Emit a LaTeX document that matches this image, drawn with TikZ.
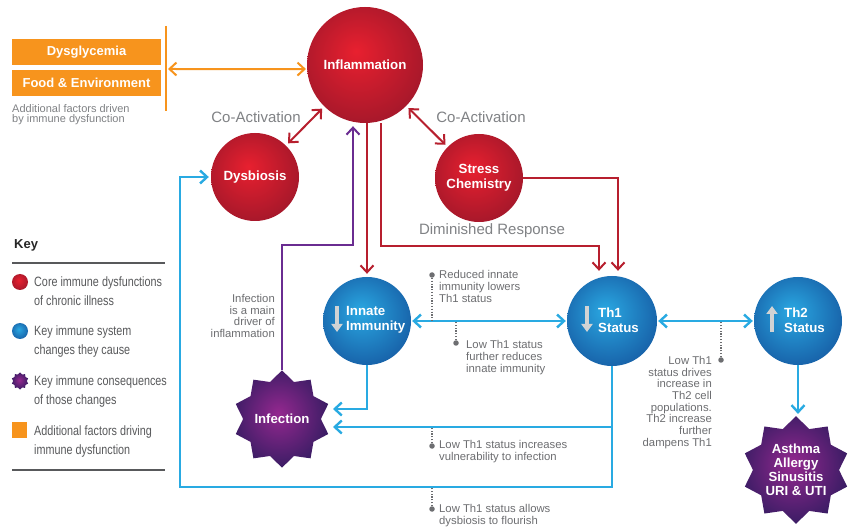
\documentclass[tikz,border=0pt]{standalone}
\usepackage{fontspec}
\setmainfont{Liberation Sans}
\newfontfamily\narrowfont[FakeStretch=0.8]{Liberation Sans}
\usetikzlibrary{arrows.meta,shapes.geometric}

% palette
\definecolor{redin}{HTML}{E8202F}
\definecolor{redout}{HTML}{A0172A}
\definecolor{bluein}{HTML}{2AA8E2}
\definecolor{blueout}{HTML}{165CA4}
\definecolor{purin}{HTML}{94288F}
\definecolor{purout}{HTML}{2F1B5F}
\definecolor{redline}{HTML}{B71F2E}
\definecolor{blueline}{HTML}{29AAE2}
\definecolor{purline}{HTML}{6A2C91}
\definecolor{orange}{HTML}{F7941D}
\definecolor{notegray}{HTML}{6D6E71}
\definecolor{labelgray}{HTML}{808285}
\definecolor{keygray}{HTML}{58595B}
\definecolor{pointer}{HTML}{D1D3D4}

% lit spheres: highlight a little up and to the left
\pgfdeclareradialshading{redsphere}{\pgfpoint{-4bp}{6bp}}{color(0bp)=(redin); color(31bp)=(redout); color(50bp)=(redout)}
\pgfdeclareradialshading{bluesphere}{\pgfpoint{-4bp}{6bp}}{color(0bp)=(bluein); color(31bp)=(blueout); color(50bp)=(blueout)}
\pgfdeclareradialshading{purplestar}{\pgfpoint{-2bp}{3bp}}{color(0bp)=(purin); color(30bp)=(purout); color(50bp)=(purout)}

\tikzset{
  sphere/.style={circle, minimum size=#1, inner sep=0pt, text=white, align=center,
                 font=\bfseries\fontsize{13.3}{15}\selectfont},
  coreball/.style={sphere=#1, shading=redsphere},
  changeball/.style={sphere=#1, shading=bluesphere},
  conseq/.style={star, star points=10, star point ratio=1.25, minimum size=#1,
                 inner sep=0pt, shading=purplestar, text=white, align=center,
                 font=\bfseries\fontsize{13.2}{14}\selectfont},
  balltext/.style={text=white, align=left, inner sep=0pt,
                   font=\bfseries\fontsize{13.3}{15}\selectfont},
  factorbox/.style={fill=orange, text=white, minimum width=149pt, minimum height=26pt,
                    inner sep=0pt, font=\bfseries\fontsize{13}{15}\selectfont},
  redarrow/.style={draw=redline, line width=2pt,
                   arrows={-Straight Barb[length=7pt,width=13pt]}},
  bluearrow/.style={draw=blueline, line width=2.4pt,
                    arrows={-Straight Barb[length=7pt,width=13pt]}},
  purplearrow/.style={draw=purline, line width=2pt,
                      arrows={-Straight Barb[length=7pt,width=13pt]}},
  orangearrow/.style={draw=orange, line width=2pt,
                      arrows={Straight Barb[length=7pt,width=13pt]-Straight Barb[length=7pt,width=13pt]}},
  pointerarrow/.style={draw=pointer, line width=3.2pt,
                       arrows={-Triangle[length=8pt,width=11pt]}},
  dotmark/.style={circle, fill=notegray, inner sep=0pt, minimum size=5.5pt},
  dotline/.style={draw=notegray, line width=1.3pt, dash pattern=on 1.2pt off 1.6pt},
  note/.style={text=notegray, inner sep=0pt, font=\fontsize{11.3}{11.7}\selectfont},
  linklabel/.style={text=labelgray, inner sep=0pt, font=\fontsize{15}{17}\selectfont},
  keytext/.style={text=keygray, inner sep=0pt, align=left,
                  font=\narrowfont\fontsize{13.5}{19}\selectfont},
  keyrule/.style={draw=keygray, line width=1.1pt},
}

\begin{document}
\begin{tikzpicture}[x=1pt,y=-1pt]
\useasboundingbox (0,0) rectangle (849,529);
\fill[white] (0,0) rectangle (849,529);

% ---- additional factors ----
\node[factorbox] (dysg) at (86.5,52) {Dysglycemia};
\node[factorbox] (food) at (86.5,83) {Food \& Environment};
\node[text=labelgray, inner sep=0pt, anchor=north west, align=left,
      font=\fontsize{11}{10}\selectfont] (factnote) at (12,104)
      {Additional factors driven\\by immune dysfunction};
\coordinate (fenceTop) at (166,26);
\coordinate (fenceBot) at (166,111);
\draw[draw=orange, line width=2pt] (fenceTop) -- (fenceBot);
\coordinate (fenceArrow) at (168,69);

% ---- core dysfunctions ----
\node[coreball=116pt] (infl) at (365,65) {Inflammation};
\node[coreball=88pt] (dysb) at (255,177) {Dysbiosis};
\node[coreball=88pt] (stress) at (479,178) {Stress\\Chemistry};

% ---- immune system changes ----
\node[changeball=88pt] (innate) at (367,321) {};
\node[changeball=90pt] (th1) at (612,321) {};
\node[changeball=88pt] (th2) at (798,321) {};
\node[balltext, anchor=west] (innatelbl) at (346,320) {Innate\\Immunity};
\node[balltext, anchor=west] (th1lbl) at (598,320) {Th1\\Status};
\node[balltext, anchor=west] (th2lbl) at (784,320) {Th2\\Status};
\draw[pointerarrow] ([shift={(-30,-15)}]innate.center) -- ([shift={(-30,11)}]innate.center);
\draw[pointerarrow] ([shift={(-25,-15)}]th1.center) -- ([shift={(-25,11)}]th1.center);
\draw[pointerarrow] ([shift={(-26,11)}]th2.center) -- ([shift={(-26,-15)}]th2.center);

% ---- consequences ----
\node[conseq=94pt] (infection) at (282,419) {Infection};
\node[conseq=106pt] (asthma) at (796,470) {Asthma\\Allergy\\Sinusitis\\URI \& UTI};

% ---- links between core dysfunctions ----
\draw[orangearrow, shorten >=1pt] (fenceArrow) -- (infl.184);
\draw[redarrow, arrows={Straight Barb[length=7pt,width=13pt]-Straight Barb[length=7pt,width=13pt]},
      shorten <=3pt, shorten >=3pt] (infl) -- (dysb);
\draw[redarrow, arrows={Straight Barb[length=7pt,width=13pt]-Straight Barb[length=7pt,width=13pt]},
      shorten <=3pt, shorten >=3pt] (infl) -- (stress);
\node[linklabel] (coact1) at (256,117) {Co-Activation};
\node[linklabel] (coact2) at (481,117) {Co-Activation};

% ---- diminished response ----
\draw[redarrow, shorten >=3pt] (innate.north |- infl.south) -- (innate.north);
\draw[redarrow, shorten >=5pt] ([xshift=16pt]infl.south) -- ++(0,123) -| ([xshift=-13pt]th1.north);
\draw[redarrow, shorten >=5pt] (stress.east) -| ([xshift=6pt]th1.north);
\node[linklabel] (dimresp) at (492,231) {Diminished Response};

% ---- infection drives inflammation ----
\draw[purplearrow, shorten >=3pt] (infection.north) -- ++(0,-125) -| ([xshift=-12pt]infl.south);
\node[note, anchor=north east, align=right] (infnote) at (275,294)
      {Infection\\is a main\\driver of\\inflammation};

% ---- immune system links ----
\coordinate (infA) at ([shift={(51,-10)}]infection.center);
\coordinate (infB) at ([shift={(51,8)}]infection.center);
\coordinate (loopBL) at (180,487);
\draw[bluearrow, arrows={Straight Barb[length=7pt,width=13pt]-Straight Barb[length=7pt,width=13pt]},
      shorten <=1pt, shorten >=1pt] (innate) -- (th1);
\draw[bluearrow, arrows={Straight Barb[length=7pt,width=13pt]-Straight Barb[length=7pt,width=13pt]},
      shorten <=1pt, shorten >=1pt] (th1) -- (th2);
\draw[bluearrow, shorten >=2pt] (th2.south) -- (th2.south |- asthma.north);
\draw[bluearrow] (innate.south) |- (infA);
\draw[bluearrow] (th1.south |- infB) -- (infB);
\draw[bluearrow, shorten >=2pt] (th1.south) |- (loopBL) |- (dysb.west);

% ---- annotations ----
\node[dotmark] (d1) at (432,275) {};
\draw[dotline] (d1) -- (d1 |- innate);
\node[note, anchor=north west, align=left] (n1) at (439,270.5)
      {Reduced innate\\immunity lowers\\Th1 status};
\node[dotmark] (d2) at (456,343) {};
\draw[dotline] (d2) -- (d2 |- innate);
\node[note, anchor=north west, align=left] (n2) at (466,340.5)
      {Low Th1 status\\further reduces\\innate immunity};
\node[dotmark] (d3) at (432,446) {};
\draw[dotline] (d3) -- (d3 |- infB);
\node[note, anchor=north west, align=left] (n3) at (439,440.5)
      {Low Th1 status increases\\vulnerability to infection};
\node[dotmark] (d4) at (432,509) {};
\draw[dotline] (d4) -- (d4 |- loopBL);
\node[note, anchor=north west, align=left] (n4) at (439,504.5)
      {Low Th1 status allows\\dysbiosis to flourish};
\node[dotmark] (d5) at (721,360) {};
\draw[dotline] (d5) -- (d5 |- th2);
\node[note, anchor=north east, align=right] (n5) at (712,356)
      {Low Th1\\status drives\\increase in\\Th2 cell\\populations.\\Th2 increase\\further\\dampens Th1};

% ---- key ----
\node[inner sep=0pt, anchor=west, text=black!85, font=\bfseries\fontsize{13}{15}\selectfont]
      (keytitle) at (14,245) {Key};
\coordinate (ruleA1) at (12,263); \coordinate (ruleA2) at (165,263);
\coordinate (ruleB1) at (12,470); \coordinate (ruleB2) at (165,470);
\draw[keyrule] (ruleA1) -- (ruleA2);
\draw[keyrule] (ruleB1) -- (ruleB2);
\node[coreball=16pt] (kred) at (20,282) {};
\node[keytext, anchor=north west] (kredtxt) at (34,276.5) {Core immune dysfunctions\\of chronic illness};
\node[changeball=16pt] (kblue) at (20,331) {};
\node[keytext, anchor=north west] (kbluetxt) at (34,325.5) {Key immune system\\changes they cause};
\node[conseq=17pt] (kpurple) at (20,381) {};
\node[keytext, anchor=north west] (kpurtxt) at (34,375.5) {Key immune consequences\\of those changes};
\node[fill=orange, minimum width=15pt, minimum height=16pt, inner sep=0pt] (korange) at (19.5,429.7) {};
\node[keytext, anchor=north west] (korgtxt) at (34,425.5) {Additional factors driving\\immune dysfunction};
\end{tikzpicture}
\end{document}
